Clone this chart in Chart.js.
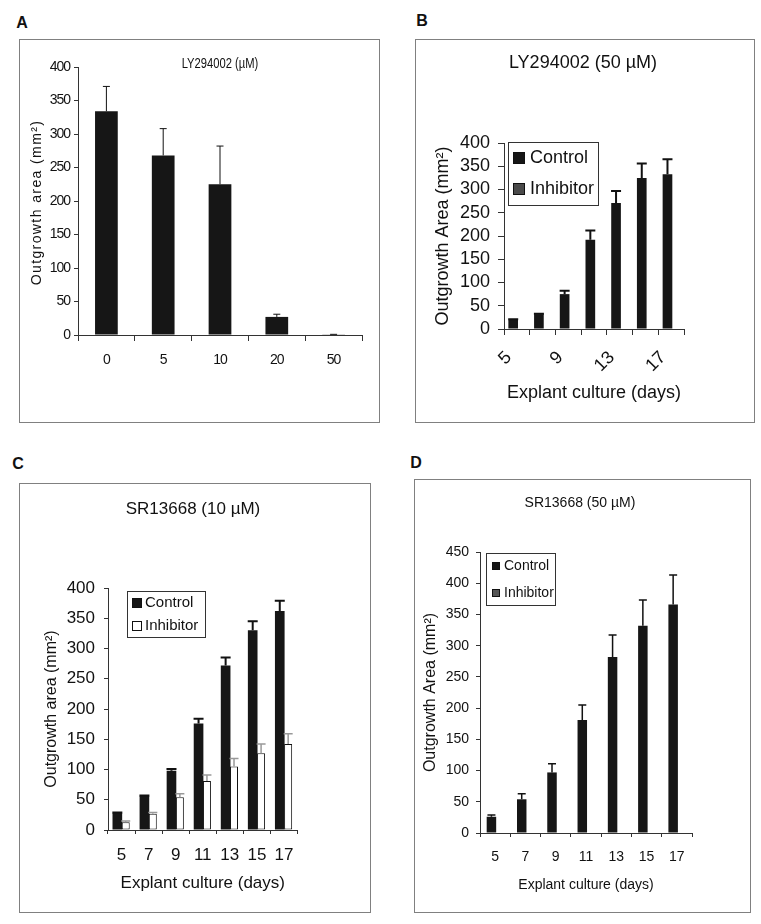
<!DOCTYPE html>
<html lang="en">
<head>
  <meta charset="UTF-8">
  <title>Explant outgrowth area</title>
  <script src="https://cdn.jsdelivr.net/npm/chart.js"></script>
  <style>
    body { margin: 0; background: #fff; width: 761px; height: 924px; position: relative; overflow: hidden;
           font-family: "Liberation Sans", Arial, sans-serif; color: #111; }
    .frame { position: absolute; border: 1px solid #808080; }
    .frame canvas { position: absolute; left: 0; top: 0; }
    .letter { position: absolute; font-weight: bold; font-size: 16px; line-height: 1; transform: translate(-50%, -50%); }
    .title { position: absolute; white-space: nowrap; line-height: 1; transform: translate(-50%, -50%); }
  </style>
</head>
<body>

  <!-- Panel letters -->
  <div class="letter" style="left:22px; top:23px;">A</div>
  <div class="letter" style="left:422px; top:21px;">B</div>
  <div class="letter" style="left:18px; top:464px;">C</div>
  <div class="letter" style="left:416px; top:463px;">D</div>

  <!-- Frames -->
  <div class="frame" style="left:19px; top:39px; width:359px; height:382px;"><canvas id="chartA" width="359" height="382"></canvas></div>
  <div class="frame" style="left:415px; top:39px; width:338px; height:382px;"><canvas id="chartB" width="338" height="382"></canvas></div>
  <div class="frame" style="left:19px; top:483px; width:350px; height:428px;"><canvas id="chartC" width="350" height="428"></canvas></div>
  <div class="frame" style="left:414px; top:479px; width:335px; height:432px;"><canvas id="chartD" width="335" height="432"></canvas></div>

  <!-- Panel titles -->
  <div class="title" style="left:220px; top:63px; font-size:14px; transform:translate(-50%,-50%) scaleX(0.8);">LY294002 (µM)</div>
  <div class="title" style="left:583px; top:62px; font-size:18px;">LY294002 (50 µM)</div>
  <div class="title" style="left:193px; top:508px; font-size:17px;">SR13668 (10 µM)</div>
  <div class="title" style="left:580px; top:502px; font-size:14px;">SR13668 (50 µM)</div>

  <script>
    // ---- data ----
    const doseLabels = ['0', '5', '10', '20', '50'];
    const doseArea = [334, 268, 225, 27, 1];
    const doseErr = [37, 40, 57, 4, 0];

    const dayLabels = ['5', '7', '9', '11', '13', '15', '17'];

    // B: LY294002 50 uM
    const lyControl = [20, 32, 75, 192, 271, 325, 333];
    const lyControlErr = [1, 1, 7, 20, 26, 31, 32];
    const lyInhibitor = [0, 0, 0, 0, 0, 0, 0];

    // C: SR13668 10 uM
    const sr10Control = [28, 56, 98, 176, 272, 330, 362];
    const sr10ControlErr = [1, 1, 3, 8, 13, 15, 17];
    const sr10Inhibitor = [13, 27, 54, 81, 105, 127, 142];
    const sr10InhibitorErr = [2, 2, 6, 10, 13, 15, 17];

    // D: SR13668 50 uM
    const sr50Control = [26, 54, 97, 181, 282, 332, 366];
    const sr50ControlErr = [3, 9, 14, 24, 35, 41, 47];
    const sr50Inhibitor = [0, 0, 0, 0, 0, 0, 0];

    const SANS = '"Liberation Sans", Arial, sans-serif';
    Chart.defaults.font.family = SANS;
    Chart.defaults.color = '#111';

    // upward error bars on each bar
    const errorBars = {
      id: 'errorBars',
      afterDatasetsDraw(chart) {
        const ctx = chart.ctx;
        const y = chart.scales.y;
        chart.data.datasets.forEach((ds, i) => {
          if (!ds.errors) return;
          const meta = chart.getDatasetMeta(i);
          ctx.save();
          ctx.strokeStyle = ds.errorColor || '#111';
          ctx.lineWidth = ds.errorWidth || 1.5;
          meta.data.forEach((bar, j) => {
            const top = y.getPixelForValue(ds.data[j] + ds.errors[j]);
            const half = ds.capHalf || 5;
            ctx.beginPath();
            ctx.moveTo(bar.x, bar.y);
            ctx.lineTo(bar.x, top);
            ctx.moveTo(bar.x - half, top);
            ctx.lineTo(bar.x + half, top);
            ctx.stroke();
          });
          ctx.restore();
        });
      }
    };

    // boxed legend inside the plot
    const boxLegend = {
      id: 'boxLegend',
      afterDraw(chart, args, o) {
        if (!o || !o.box) return;
        const ctx = chart.ctx;
        const b = o.box;
        ctx.save();
        ctx.letterSpacing = '0px';
        ctx.fillStyle = '#fff';
        ctx.fillRect(b.x, b.y, b.w, b.h);
        ctx.strokeStyle = '#333';
        ctx.lineWidth = 1;
        ctx.strokeRect(b.x + 0.5, b.y + 0.5, b.w, b.h);
        ctx.font = o.font;
        ctx.textBaseline = 'middle';
        chart.data.datasets.forEach((ds, i) => {
          const cy = o.rows[i];
          const s = o.swatch;
          ctx.fillStyle = ds.backgroundColor;
          ctx.fillRect(o.swatchX, cy - s / 2, s, s);
          ctx.strokeStyle = '#111';
          ctx.strokeRect(o.swatchX + 0.5, cy - s / 2 + 0.5, s - 1, s - 1);
          ctx.fillStyle = '#111';
          ctx.fillText(ds.label, o.textX, cy);
        });
        ctx.restore();
      }
    };

    // narrow look for panel A text (no condensed face installed)
    const tightText = {
      id: 'tightText',
      beforeDraw(chart, args, o) {
        chart.ctx.letterSpacing = (o && o.spacing) || '0px';
      }
    };

    // letter-spaced rotated y title (panel A)
    const spacedYTitle = {
      id: 'spacedYTitle',
      afterDraw(chart, args, o) {
        if (!o || !o.text) return;
        const ctx = chart.ctx;
        ctx.save();
        ctx.translate(o.x, o.y);
        ctx.rotate(-Math.PI / 2);
        ctx.font = o.font;
        ctx.letterSpacing = o.spacing;
        ctx.textAlign = 'center';
        ctx.textBaseline = 'middle';
        ctx.fillStyle = '#111';
        ctx.fillText(o.text, 0, 0);
        ctx.restore();
      }
    };

    Chart.register(errorBars, boxLegend, tightText, spacedYTitle);

    function panel(id, o) {
      return new Chart(document.getElementById(id), {
        type: 'bar',
        data: { labels: o.labels, datasets: o.datasets },
        options: {
          responsive: false,
          animation: false,
          layout: { padding: o.pad },
          plugins: {
            legend: { display: false },
            tooltip: { enabled: false },
            boxLegend: o.legend || {},
            tightText: o.tight || {},
            spacedYTitle: o.spaced || {}
          },
          scales: {
            x: {
              grid: { drawOnChartArea: false, tickLength: o.xTick, color: '#333', offset: true },
              border: { color: '#333' },
              ticks: Object.assign({ font: o.tickFont, padding: o.xPad, color: '#111', autoSkip: false, maxRotation: 0 }, o.xTicks || {}),
              title: o.xTitle
                ? { display: true, text: o.xTitle, font: o.xTitleFont, color: '#111', padding: { top: 0, bottom: o.xTitlePad } }
                : { display: false },
              afterFit: s => { s.height = o.xHeight; }
            },
            y: {
              min: 0,
              max: o.yMax,
              grid: { drawOnChartArea: false, tickLength: o.yTick, color: '#333' },
              border: { color: '#333' },
              ticks: { stepSize: 50, autoSkip: false, font: o.tickFont, padding: o.yPad, color: '#111' },
              title: o.yTitle
                ? { display: true, text: o.yTitle, font: o.yTitleFont, color: '#111', padding: { top: o.yTitlePad, bottom: 0 } }
                : { display: false },
              afterFit: s => { s.width = o.yWidth; }
            }
          }
        }
      });
    }

    // A
    panel('chartA', {
      labels: doseLabels,
      datasets: [{
        label: 'Outgrowth', data: doseArea, errors: doseErr,
        backgroundColor: '#161616', categoryPercentage: 0.8, barPercentage: 0.5,
        errorWidth: 1, capHalf: 3.5
      }],
      pad: { left: 0, right: 17, top: 27, bottom: 0 },
      yWidth: 58, xHeight: 87, yMax: 400,
      tickFont: { size: 14 },
      yTick: 4, yPad: 4, xTick: 6, xPad: 11,
      tight: { spacing: '-1px' },
      spaced: { text: 'Outgrowth area (mm²)', x: 17, y: 162.5, font: '14px ' + SANS, spacing: '1.4px' }
    });

    // B
    panel('chartB', {
      labels: dayLabels,
      datasets: [
        { label: 'Control', data: lyControl, errors: lyControlErr, backgroundColor: '#161616',
          categoryPercentage: 0.57, barPercentage: 1.32, errorWidth: 2, capHalf: 5 },
        { label: 'Inhibitor', data: lyInhibitor, backgroundColor: '#4a4a4a',
          categoryPercentage: 0.57, barPercentage: 1.32 }
      ],
      pad: { left: 0, right: 70, top: 103, bottom: 0 },
      yWidth: 88, xHeight: 93, yMax: 400,
      tickFont: { size: 18 },
      yTick: 6, yPad: 8, xTick: 6, xPad: 12,
      xTicks: { minRotation: 45, maxRotation: 45, labelOffset: -8, callback: (v, i) => (i % 2 ? '' : dayLabels[i]) },
      yTitle: 'Outgrowth Area (mm²)', yTitleFont: { size: 18 }, yTitlePad: 16.2,
      xTitle: 'Explant culture (days)', xTitleFont: { size: 18 }, xTitlePad: 18.2,
      legend: { box: { x: 92, y: 102, w: 90, h: 63 }, rows: [118, 149], swatch: 12, swatchX: 97, textX: 114, font: '18px ' + SANS }
    });

    // C
    panel('chartC', {
      labels: dayLabels,
      datasets: [
        { label: 'Control', data: sr10Control, errors: sr10ControlErr, backgroundColor: '#161616',
          categoryPercentage: 0.62, barPercentage: 1.15, errorWidth: 2, capHalf: 5 },
        { label: 'Inhibitor', data: sr10Inhibitor, errors: sr10InhibitorErr, backgroundColor: '#ffffff',
          borderColor: '#111', borderWidth: 1, borderSkipped: false,
          categoryPercentage: 0.62, barPercentage: 0.95, errorColor: '#999', errorWidth: 1.5, capHalf: 4.5 }
      ],
      pad: { left: 0, right: 72.5, top: 104, bottom: 0 },
      yWidth: 88, xHeight: 82, yMax: 400,
      tickFont: { size: 17 },
      yTick: 4, yPad: 9, xTick: 4, xPad: 11,
      yTitle: 'Outgrowth area (mm²)', yTitleFont: { size: 16 }, yTitlePad: 22,
      xTitle: 'Explant culture (days)', xTitleFont: { size: 17 }, xTitlePad: 18.8,
      legend: { box: { x: 107, y: 107, w: 78, h: 46 }, rows: [119, 142], swatch: 10, swatchX: 112, textX: 125, font: '15px ' + SANS }
    });

    // D
    panel('chartD', {
      labels: dayLabels,
      datasets: [
        { label: 'Control', data: sr50Control, errors: sr50ControlErr, backgroundColor: '#161616',
          categoryPercentage: 0.49, barPercentage: 1.28, errorWidth: 1.5, capHalf: 4 },
        { label: 'Inhibitor', data: sr50Inhibitor, backgroundColor: '#555555',
          categoryPercentage: 0.49, barPercentage: 1.28 }
      ],
      pad: { left: 0, right: 58, top: 72, bottom: 0 },
      yWidth: 65, xHeight: 79, yMax: 450,
      tickFont: { size: 14 },
      yTick: 4, yPad: 7, xTick: 4, xPad: 12,
      yTitle: 'Outgrowth Area (mm²)', yTitleFont: { size: 16 }, yTitlePad: 6,
      xTitle: 'Explant culture (days)', xTitleFont: { size: 14 }, xTitlePad: 18.6,
      legend: { box: { x: 71, y: 73, w: 69, h: 52 }, rows: [86, 113], swatch: 8, swatchX: 77, textX: 89, font: '14px ' + SANS }
    });
  </script>
</body>
</html>
